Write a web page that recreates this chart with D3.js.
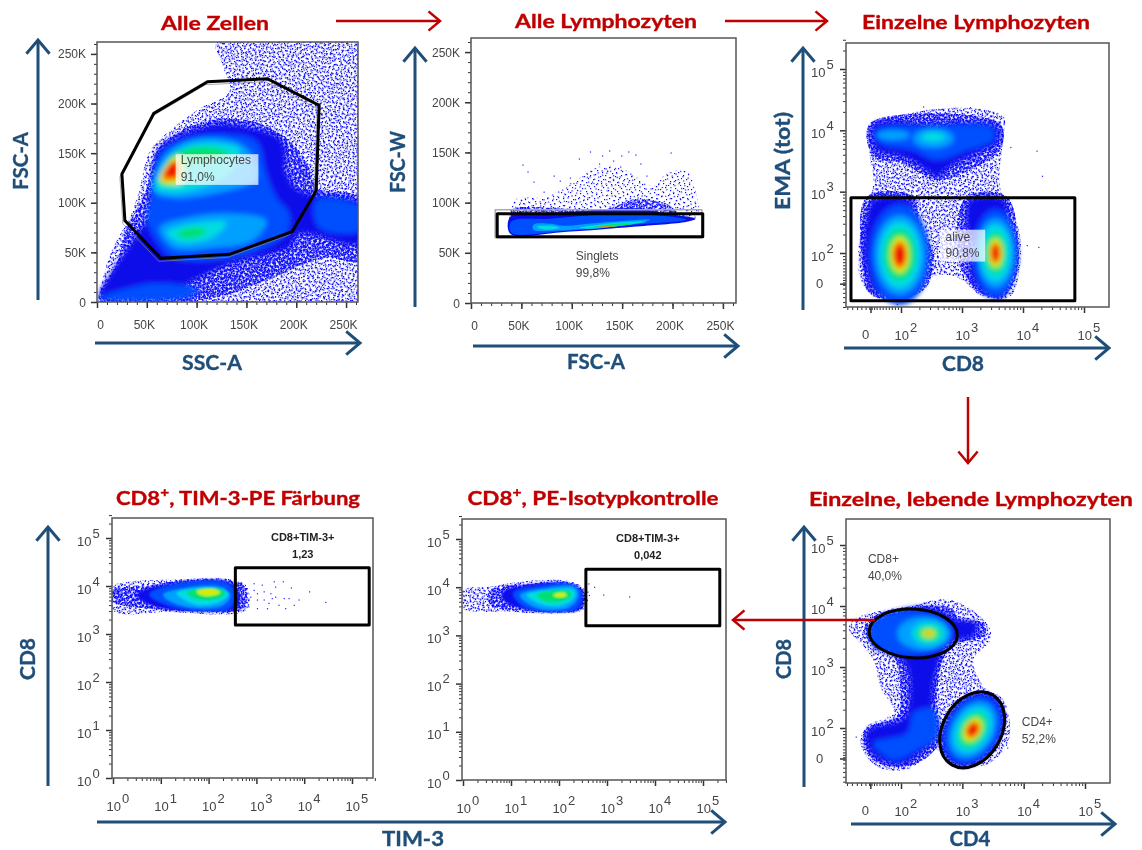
<!DOCTYPE html>
<html>
<head>
<meta charset="utf-8">
<script src="https://cdn.jsdelivr.net/npm/d3@7"></script>
<style>
  body { margin: 0; background: #fff; }
  svg { display: block; filter: blur(0.35px); }
  text { font-family: "Liberation Sans", Arial, sans-serif; }
  .head { font-family: Lato, sans-serif; font-weight: 700; stroke-width: 0.35; }
</style>
</head>
<body>
<svg width="1142" height="850"></svg>
<script>
// density regions: [level, [[x,y],...]], linear panels in K, log panels in decades
const allCellsRegions = [
  [0, [[120,261],[265,264],[265,-3],[2,-1],[3,12],[16,55],[33,85],[43,115],[53,152],[76,175],[103,195],[133,212],[126,239]]],
  [1, [[50,115],[60,152],[83,172],[120,184],[156,182],[190,165],[213,135],[220,115],[264,105],[264,42],[230,45],[186,29],[136,9],[103,2],[3,2],[20,39],[30,75],[43,99]]],
  [2, [[53,109],[63,155],[90,170],[123,179],[156,175],[186,162],[190,129],[203,112],[264,99],[264,59],[203,69],[193,55],[136,39],[103,25],[76,12],[3,4],[16,32],[36,62],[50,85]]],
  [3, [[56,109],[66,152],[93,165],[130,169],[160,162],[170,129],[180,105],[193,89],[190,69],[136,45],[76,45],[60,62],[50,85]]],
  [3, [[3,4],[36,15],[60,19],[103,12],[90,4]]],
  [3, [[220,102],[264,95],[264,72],[223,75]]],
  [4, [[56,112],[66,145],[90,162],[123,165],[150,155],[160,125],[116,109],[76,105]]],
  [4, [[63,75],[90,85],[136,89],[170,82],[156,62],[116,55],[76,55]]],
  [5, [[60,114],[70,142],[90,157],[120,160],[143,154],[133,129],[103,115],[76,110]]],
  [5, [[70,70],[96,79],[130,80],[116,65],[83,60]]],
  [6, [[63,119],[73,145],[93,155],[120,155],[133,149],[103,139],[83,132],[80,119]]],
  [6, [[80,70],[103,75],[110,70],[90,64]]],
  [7, [[63,122],[73,142],[83,147],[85,120]]],
  [8, [[65,124],[74,140],[81,143],[81,124]]],
  [9, [[68,127],[73,139],[80,140],[80,127]]]
];
const allCellsGate = [[25,129],[57,190],[111,222],[171,225],[223,198],[220,112],[196,71],[133,48],[64,44],[28,82]];

const singletRegions = [
  [0, [[40,89],[44,103],[75,106],[105,123],[128,136],[154,132],[181,116],[194,129],[214,131],[224,106],[224,86],[161,86],[95,89]]],
  [1, [[39,89],[42,94],[135,94],[161,103],[194,99],[207,89],[221,84],[161,83],[39,83]]],
  [2, [[39,86],[78,89],[128,93],[168,94],[194,89],[223,84],[214,81],[161,76],[95,71],[39,69]]],
  [3, [[40,81],[78,84],[128,88],[178,88],[214,83],[161,78],[95,72],[40,70]]],
  [4, [[62,78],[78,79],[92,77],[128,80],[178,83],[161,79],[115,74],[78,72],[62,73]]],
  [5, [[65,76],[78,77],[88,75],[75,73]]],
  [5, [[108,75],[145,80],[174,81],[148,77],[118,74]]],
  [6, [[118,75],[145,79],[161,79],[141,76]]],
  [8, [[125,76],[138,77],[148,77],[135,76]]]
];
const singletStrays = [[51,138],[56,131],[118,151],[137,152],[149,147],[156,151],[163,148],[198,150],[107,144],[130,147],[127,139],[141,142],[168,139],[62,121],[82,127],[98,125],[135,132],[148,136],[115,129],[72,111],[88,122],[120,121],[174,127],[158,129]];

const aliveRegions = [
  [0, [[1.49,4.06],[2.15,4.28],[3.13,4.36],[3.68,4.22],[3.68,3.90],[3.62,3.08],[3.79,2.76],[3.95,2.27],[3.95,1.78],[3.79,1.29],[3.35,1.29],[2.91,1.61],[2.48,1.61],[2.04,1.23],[1.55,1.29],[1.33,1.61],[1.33,2.32],[1.49,2.86],[1.55,3.19],[1.49,3.57]]],
  [1, [[1.44,2.92],[2.20,2.92],[2.31,2.43],[2.53,2.0],[2.42,1.45],[2.04,1.26],[1.49,1.34],[1.36,1.89]]],
  [1, [[3.08,2.92],[3.73,2.92],[3.92,2.21],[3.90,1.67],[3.68,1.29],[3.35,1.32],[3.02,1.67],[2.91,2.32]]],
  [1, [[1.49,4.11],[3.62,4.11],[3.65,3.73],[3.24,3.41],[2.58,3.19],[2.04,3.46],[1.55,3.57]]],
  [2, [[1.55,4.09],[2.48,4.11],[3.57,4.06],[3.57,3.79],[3.24,3.63],[2.80,3.41],[2.58,3.24],[2.42,3.35],[2.04,3.57],[1.60,3.68]]],
  [2, [[1.55,2.86],[2.15,2.86],[2.20,2.59],[2.42,2.21],[2.42,1.78],[2.20,1.45],[2.04,1.29],[1.60,1.34],[1.41,1.78],[1.41,2.32]]],
  [2, [[3.13,2.86],[3.68,2.86],[3.79,2.43],[3.92,2.0],[3.79,1.45],[3.62,1.26],[3.35,1.34],[3.13,1.67],[3.19,2.10],[3.08,2.43]]],
  [3, [[1.60,4.01],[2.48,4.06],[3.51,4.03],[3.51,3.84],[3.08,3.68],[2.58,3.52],[2.20,3.68],[1.66,3.79]]]
];
// [level, cx, cy, rx, ry, rotation]
const aliveBlobs = [
  [3,1.98,1.97,.49,.82,0],[4,1.98,1.97,.41,.65,0],[5,1.98,1.97,.33,.54,0],[6,1.98,1.97,.25,.41,0],[7,1.98,1.97,.16,.30,0],[8,1.98,1.97,.12,.23,0],[9,1.98,1.97,.09,.17,0],
  [3,3.55,2.0,.36,.71,0],[4,3.55,2.0,.30,.57,0],[5,3.55,2.0,.25,.46,0],[6,3.55,2.0,.17,.33,0],[7,3.55,2.0,.12,.24,0],[8,3.55,2.0,.09,.18,0],[9,3.55,2.0,.06,.13,0],
  [4,1.87,3.92,.27,.08,0],[4,2.53,3.87,.33,.16,0],[5,2.53,3.89,.19,.08,0]
];
const aliveStrays = [[4.22,3.67],[4.31,3.26],[4.25,2.10],[4.06,2.13],[3.79,3.73],[2.36,4.39],[2.69,4.35],[3.13,4.38],[1.93,1.17]];

const tim3Regions = [
  [0, [[0,3.99],[.42,4.10],[1.12,4.13],[2.52,4.13],[2.80,3.99],[2.80,3.51],[1.12,3.46],[0,3.49]]],
  [1, [[0,3.92],[.63,3.99],[1.33,4.10],[2.45,4.11],[2.76,3.99],[2.73,3.54],[1.82,3.47],[.98,3.51],[0,3.68]]],
  [2, [[.49,3.82],[1.26,4.06],[2.38,4.10],[2.60,3.92],[2.60,3.54],[1.82,3.47],[.98,3.54],[.63,3.68]]],
  [3, [[.77,3.82],[1.26,4.03],[2.38,4.06],[2.55,3.85],[2.45,3.54],[1.75,3.49],[1.12,3.61]]],
  [4, [[1.05,3.82],[1.54,3.96],[2.24,3.98],[2.45,3.82],[2.31,3.61],[1.75,3.54],[1.26,3.65]]],
  [5, [[1.33,3.85],[1.82,3.96],[2.31,3.92],[2.41,3.82],[2.17,3.65],[1.75,3.61]]],
  [6, [[1.54,3.87],[1.96,3.96],[2.31,3.91],[2.34,3.82],[2.10,3.72],[1.75,3.73]]],
  [7, [[1.75,3.89],[2.10,3.94],[2.24,3.87],[2.10,3.80],[1.82,3.82]]]
];
const tim3Strays = [[3.36,4.10],[3.55,4.10],[3.72,3.97],[4.10,3.89],[4.44,3.67],[3.88,3.72],[3.67,3.75],[3.78,3.61],[3.60,3.54],[3.46,3.61],[3.29,3.85],[3.32,3.75],[3.11,4.03],[2.94,4.06],[3.15,3.72],[3.01,3.85],[2.87,3.78],[2.83,3.58],[3.01,3.54],[3.22,3.54],[3.39,3.99],[3.01,3.72],[2.94,3.92],[3.15,3.89],[3.25,3.65],[3.39,3.78],[3.57,3.75]];

const isoRegions = [
  [0, [[0,3.94],[.57,4.01],[1.26,4.12],[2.23,4.12],[2.54,3.94],[2.54,3.56],[1.95,3.46],[.91,3.49],[0,3.56]]],
  [1, [[.57,3.94],[1.26,4.05],[2.26,4.08],[2.52,3.91],[2.49,3.56],[1.95,3.47],[1.26,3.52],[.57,3.63]]],
  [2, [[.84,3.91],[1.26,4.03],[2.26,4.07],[2.49,3.88],[2.45,3.56],[1.95,3.48],[1.26,3.54],[.84,3.74]]],
  [3, [[1.05,3.88],[1.61,4.03],[2.23,4.07],[2.47,3.88],[2.37,3.56],[1.81,3.49],[1.26,3.60]]],
  [4, [[1.19,3.84],[1.75,3.98],[2.33,4.0],[2.40,3.84],[2.23,3.60],[1.75,3.53],[1.40,3.63]]],
  [5, [[1.33,3.84],[1.81,3.94],[2.30,3.94],[2.33,3.81],[2.09,3.63],[1.68,3.63]]],
  [6, [[1.54,3.84],[1.88,3.93],[2.23,3.91],[2.26,3.81],[2.02,3.70],[1.68,3.72]]],
  [7, [[1.88,3.84],[2.09,3.89],[2.16,3.83],[1.99,3.79]]]
];
const isoStrays = [[2.61,4.08],[2.73,4.01],[2.92,3.85],[3.46,3.81],[2.62,3.84],[2.59,3.91],[2.58,3.74]];

const cd4cd8Regions = [
  [0, [[1.15,3.61],[1.23,3.78],[1.61,3.91],[2.10,3.99],[2.80,4.10],[3.40,3.72],[3.46,3.45],[3.18,3.12],[3.35,2.68],[3.67,2.46],[3.76,1.81],[3.46,1.43],[2.91,1.37],[2.59,1.64],[2.10,1.32],[1.61,1.37],[1.34,1.75],[1.45,2.03],[1.88,2.25],[1.66,2.68],[1.55,3.12],[1.34,3.39]]],
  [1, [[1.40,3.61],[1.55,3.83],[2.10,3.97],[2.80,3.97],[2.97,3.78],[3.35,3.72],[3.35,3.50],[2.91,3.39],[2.70,3.17],[2.59,2.57],[2.59,1.70],[2.10,1.37],[1.55,1.48],[1.39,1.81],[1.45,2.0],[1.93,2.19],[1.99,2.68],[1.88,3.17],[1.55,3.34]]],
  [2, [[1.50,3.67],[1.88,3.91],[2.53,3.97],[2.91,3.78],[3.24,3.72],[3.18,3.50],[2.91,3.45],[2.67,3.20],[2.51,2.52],[2.56,1.81],[2.32,1.59],[1.99,1.40],[1.55,1.54],[1.42,1.81],[1.47,1.97],[2.04,2.16],[2.13,2.36],[2.10,3.01],[1.93,3.17],[1.55,3.34]]],
  [3, [[1.55,1.75],[2.10,1.92],[2.21,2.25],[2.53,2.30],[2.59,1.86],[2.26,1.64],[1.88,1.48]]]
];
const cd4cd8Blobs = [
  [3,2.15,3.56,.68,.36,0],[4,2.37,3.55,.43,.27,0],[5,2.45,3.55,.27,.19,0],[6,2.45,3.55,.19,.12,0],[7,2.45,3.55,.11,.07,0],[8,2.45,3.55,.05,.03,0],
  [1,3.17,1.97,.68,.49,-60],[2,3.17,1.97,.63,.45,-60],[3,3.17,1.97,.57,.41,-60],[4,3.17,1.97,.49,.34,-60],[5,3.17,1.97,.39,.27,-60],[6,3.17,1.97,.30,.20,-60],[7,3.17,1.97,.21,.14,-60],[8,3.17,1.97,.15,.11,-60],[9,3.17,1.97,.11,.08,-60]
];
const cd4cd8Strays = [[2.82,4.09],[4.43,2.31],[3.73,1.68],[1.26,1.86]];
const cd4cd8Gates = [[2.20,3.55,.72,.40,3],[3.16,1.97,.66,.48,-60]];

const kTicks = [0, 50, 100, 150, 200, 250];
const biexTicks = [1.5, 2, 3, 4, 5];
const logTicks = [0, 1, 2, 3, 4, 5];

const levelColor = ["none", "none", "#0810ea", "#0050ff", "#00a0ff", "#00dce0", "#00e070", "#d2f000", "#ff8a00", "#f01000"];
// irregular tile for the speckled low density parts, laid over itself at several angles
const speckle = [[1,2],[5,0],[9,3],[14,1],[19,4],[24,2],[28,5],[3,6],[7,8],[12,6],[17,9],[22,7],[26,10],[0,11],[5,12],[10,10],[15,13],[20,12],[25,14],[29,13],[2,16],[8,15],[13,17],[18,16],[23,18],[27,17],[1,20],[6,19],[11,21],[16,20],[21,22],[26,21],[30,23],[4,24],[9,25],[14,24],[19,26],[24,25],[28,27],[2,28],[7,29],[12,28],[17,30],[22,29],[29,30]];
const speckleLayers = 16;

const svg = d3.select("svg");
const defs = svg.append("defs");
const blue = "#1f4e79", red = "#c00000", ink = "#454545";

d3.range(speckleLayers).forEach(i => {
  defs.append("pattern").attr("id", "speckle" + i).attr("patternUnits", "userSpaceOnUse")
    .attr("width", 31).attr("height", 31)
    .attr("patternTransform", `translate(${i * 7},${i * 11}) rotate(${i * 37})`)
    .selectAll("rect").data(speckle).join("rect")
    .attr("x", d => d[0]).attr("y", d => d[1]).attr("width", 1.2).attr("height", 1.2).attr("fill", "#0808ff");
});

const outline = d3.line().curve(d3.curveCatmullRomClosed.alpha(0.5));
const straight = d3.line().curve(d3.curveLinearClosed);

function logMinor(from, to) {
  let out = [];
  for (let k = from; k < to; k++) for (let m = 2; m < 10; m++) out.push(k + Math.log10(m));
  return out;
}

function panel(p) {
  const x = d3.scaleLinear().domain(p.xd).range(p.xr);
  const y = d3.scaleLinear().domain(p.yd).range(p.yr);
  const left = p.frame[0], top = p.frame[1], right = p.frame[2], bottom = p.frame[3];
  const g = svg.append("g");

  defs.append("clipPath").attr("id", "clip" + p.id).append("rect")
    .attr("x", left).attr("y", top).attr("width", right - left).attr("height", bottom - top);
  defs.append("filter").attr("id", "soft" + p.id)
    .attr("x", "-10%").attr("y", "-10%").attr("width", "120%").attr("height", "120%")
    .append("feGaussianBlur").attr("stdDeviation", p.soft);

  g.append("rect").attr("x", left).attr("y", top).attr("width", right - left).attr("height", bottom - top).attr("fill", "#fff");

  const plot = g.append("g").attr("clip-path", `url(#clip${p.id})`);
  const path = r => outline(r.map(d => [x(d[0]), y(d[1])]));

  // speckled parts
  const low = plot.append("g");
  (p.regions || []).filter(r => r[0] < 2).forEach(r => {
    d3.range(r[0] == 0 ? p.sparse : p.dense).forEach(i => {
      low.append("path").attr("d", path(r[1])).attr("fill", `url(#speckle${i})`);
    });
  });
  (p.blobs || []).filter(b => b[0] < 2).forEach(b => {
    d3.range(p.dense).forEach(i => blob(low, b, `url(#speckle${i})`));
  });

  // solid density levels, softened together
  const high = plot.append("g").attr("filter", `url(#soft${p.id})`);
  d3.range(2, 10).forEach(level => {
    (p.regions || []).filter(r => r[0] == level).forEach(r => {
      high.append("path").attr("d", path(r[1])).attr("fill", levelColor[level]);
    });
    (p.blobs || []).filter(b => b[0] == level).forEach(b => blob(high, b, levelColor[level]));
  });

  plot.append("g").selectAll("rect").data(p.strays || []).join("rect")
    .attr("x", d => x(d[0])).attr("y", d => y(d[1])).attr("width", 1.2).attr("height", 1.2).attr("fill", "#2222ff");

  function blob(parent, b, fill) {
    const cx = x(b[1]), cy = y(b[2]);
    parent.append("ellipse").attr("cx", cx).attr("cy", cy)
      .attr("rx", Math.abs(x(b[1] + b[3]) - cx)).attr("ry", Math.abs(y(b[2] + b[4]) - cy))
      .attr("transform", `rotate(${b[5]},${cx},${cy})`)
      .attr("fill", fill);
  }

  // axes
  const xMinor = d3.axisBottom(x).tickValues(p.xMinor).tickSize(3).tickFormat("");
  const yMinor = d3.axisLeft(y).tickValues(p.yMinor).tickSize(3).tickFormat("");
  const xMajor = d3.axisBottom(x).tickValues(p.xTicks).tickSize(6);
  const yMajor = d3.axisLeft(y).tickValues(p.yTicks).tickSize(6);
  const axes = [
    g.append("g").attr("transform", `translate(0,${bottom})`).call(xMinor),
    g.append("g").attr("transform", `translate(${left},0)`).call(yMinor),
  ];
  const xa = g.append("g").attr("transform", `translate(0,${bottom})`).call(xMajor);
  const ya = g.append("g").attr("transform", `translate(${left},0)`).call(yMajor);
  axes.concat([xa, ya]).forEach(a => {
    a.select(".domain").remove();
    a.selectAll("line").attr("stroke", "#333");
  });
  xa.selectAll("line").attr("stroke-width", 1.5);
  ya.selectAll("line").attr("stroke-width", 1.5);

  xa.selectAll("text").each(function(d) { tickText(d3.select(this), d, p, true); });
  ya.selectAll("text").each(function(d) { tickText(d3.select(this), d, p, false); });

  g.append("rect").attr("x", left).attr("y", top).attr("width", right - left).attr("height", bottom - top)
    .attr("fill", "none").attr("stroke", "#555").attr("stroke-width", 1.5);

  // gates
  if (p.shadowRect) gateRect(p.shadowRect, "#aaa", 1.5);
  if (p.gatePoly) {
    g.append("path").attr("d", straight(p.gatePoly.map(d => [x(d[0]) - 2, y(d[1]) + 3])))
      .attr("fill", "none").attr("stroke", "#888").attr("stroke-width", 1).attr("opacity", 0.7);
    g.append("path").attr("d", straight(p.gatePoly.map(d => [x(d[0]), y(d[1])])))
      .attr("fill", "none").attr("stroke", "#000").attr("stroke-width", 3);
  }
  if (p.gateRect) gateRect(p.gateRect, "#000", 3);
  (p.gateEllipses || []).forEach(b => {
    const cx = x(b[0]), cy = y(b[1]);
    g.append("ellipse").attr("cx", cx).attr("cy", cy)
      .attr("rx", Math.abs(x(b[0] + b[2]) - cx)).attr("ry", Math.abs(y(b[1] + b[3]) - cy))
      .attr("transform", `rotate(${b[4]},${cx},${cy})`)
      .attr("fill", "none").attr("stroke", "#000").attr("stroke-width", 3);
  });

  function gateRect(r, color, w) {
    g.append("rect").attr("x", x(r[0])).attr("y", y(r[3])).attr("width", x(r[1]) - x(r[0])).attr("height", y(r[2]) - y(r[3]))
      .attr("fill", "none").attr("stroke", color).attr("stroke-width", w).attr("stroke-linejoin", "round");
  }

  // label box and gate text
  if (p.box) {
    g.append("rect").attr("x", x(p.box[0])).attr("y", y(p.box[3])).attr("width", x(p.box[1]) - x(p.box[0])).attr("height", y(p.box[2]) - y(p.box[3]))
      .attr("fill", "#fff").attr("opacity", 0.72);
  }
  (p.notes || []).forEach(n => {
    g.append("text").attr("x", x(n[0])).attr("y", y(n[1])).text(n[2])
      .attr("font-size", n[3] ? 11 : 12).attr("font-weight", n[3] ? "bold" : null)
      .attr("text-anchor", n[3] ? "middle" : "start").attr("fill", n[3] ? "#222" : ink)
      .style("font-family", "'Liberation Sans', Arial, sans-serif");
  });
}

function tickText(t, d, p, isX) {
  t.attr("fill", ink).attr("font-size", p.kind == "k" ? 12 : 13).attr("dy", null)
    .style("font-family", "'Liberation Sans', Arial, sans-serif");
  if (p.kind == "k") {
    t.text(d ? d + "K" : "0");
    if (isX) t.attr("y", 26.5).attr("x", d ? -3 : 3).attr("text-anchor", "middle");
    else t.attr("x", -11).attr("y", 4).attr("text-anchor", "end");
    return;
  }
  if (d == 1.5) {
    t.text("0");
    if (isX) t.attr("y", 32).attr("x", -9).attr("text-anchor", "start");
    else t.attr("x", -30).attr("y", 4).attr("text-anchor", "start");
    return;
  }
  t.text(null).attr("text-anchor", "start");
  if (isX) t.attr("x", -7).attr("y", 32.5);
  else t.attr("x", -35).attr("y", 7);
  t.append("tspan").text("10");
  t.append("tspan").attr("dx", 1).attr("dy", -8).text(Math.round(d));
}

function arrow(x1, y1, x2, y2, color, w, head) {
  const a = Math.atan2(y2 - y1, x2 - x1), s = Math.PI / 4.5;
  const g = svg.append("g").attr("fill", "none").attr("stroke", color).attr("stroke-width", w);
  g.append("path").attr("d", d3.line()([[x1, y1], [x2, y2]]));
  g.append("path").attr("d", d3.line()([
    [x2 - head * Math.cos(a - s), y2 - head * Math.sin(a - s)],
    [x2, y2],
    [x2 - head * Math.cos(a + s), y2 - head * Math.sin(a + s)]
  ]));
}

function heading(txt, cx, cy, width, size, color, rotate, sup) {
  const t = svg.append("text").attr("class", "head")
    .attr("text-anchor", "middle").attr("dominant-baseline", "central")
    .attr("font-size", size).attr("fill", color).attr("stroke", color)
    .attr("transform", `translate(${cx},${cy}) rotate(${rotate || 0})`);
  if (sup) {
    t.append("tspan").text(sup[0]);
    t.append("tspan").attr("dy", -5).attr("font-size", size * 0.7).text("+");
    t.append("tspan").attr("dy", 5).text(sup[1]);
  } else t.text(txt);
  t.attr("textLength", width).attr("lengthAdjust", "spacingAndGlyphs");
}

const kMinor = d3.range(0, 270, 10);
const biexMinor = [1.12, 1.2, 1.28, 1.35, 1.42, 1.48, 1.52, 1.56, 1.6, 1.65, 1.7, 1.75, 1.8, 1.85, 1.9, 1.95].concat(logMinor(2, 5));

panel({
  id: 1, kind: "k", soft: 2.5, sparse: 5, dense: 14, frame: [97, 42, 358, 302],
  xd: [0, 262], xr: [97, 358], yd: [0, 262], yr: [302, 42],
  xTicks: kTicks, yTicks: kTicks, xMinor: kMinor, yMinor: kMinor,
  regions: allCellsRegions, gatePoly: allCellsGate,
  box: [79, 162, 118, 149],
  notes: [[84, 139, "Lymphocytes"], [84, 122, "91,0%"]]
});
panel({
  id: 2, kind: "k", soft: 0.7, sparse: 2, dense: 12, frame: [471, 38, 736, 303],
  xd: [0, 262], xr: [471, 735], yd: [0, 264], yr: [303, 38],
  xTicks: kTicks, yTicks: kTicks, xMinor: kMinor, yMinor: kMinor,
  regions: singletRegions, strays: singletStrays,
  shadowRect: [24, 229, 65, 93], gateRect: [26, 230, 66, 89],
  notes: [[104, 43, "Singlets"], [104, 26, "99,8%"]]
});
panel({
  id: 3, kind: "biex", soft: 2.5, sparse: 5, dense: 14, frame: [846, 43, 1109, 307],
  xd: [2, 5], xr: [901, 1084], yd: [2, 5], yr: [253, 69],
  xTicks: biexTicks, yTicks: biexTicks, xMinor: biexMinor, yMinor: biexMinor.concat(logMinor(5, 6).slice(0, 2)),
  regions: aliveRegions, blobs: aliveBlobs, strays: aliveStrays,
  gateRect: [1.18, 4.85, 1.22, 2.90],
  box: [2.64, 3.38, 1.86, 2.38],
  notes: [[2.73, 2.20, "alive"], [2.73, 1.93, "90,8%"]]
});
panel({
  id: 4, kind: "log", soft: 1.2, sparse: 5, dense: 14, frame: [112, 518, 373, 778],
  xd: [0, 5], xr: [113, 352], yd: [0, 5], yr: [778, 538],
  xTicks: logTicks, yTicks: logTicks, xMinor: logMinor(0, 6).slice(0, 42), yMinor: logMinor(0, 6).slice(0, 42),
  regions: tim3Regions, strays: tim3Strays,
  gateRect: [2.56, 5.36, 3.19, 4.38],
  notes: [[3.97, 4.93, "CD8+TIM-3+", true], [3.97, 4.58, "1,23", true]]
});
panel({
  id: 5, kind: "log", soft: 1.2, sparse: 5, dense: 14, frame: [462, 519, 726, 780],
  xd: [0, 5], xr: [463, 703], yd: [0, 5], yr: [780, 539],
  xTicks: logTicks, yTicks: logTicks, xMinor: logMinor(0, 6).slice(0, 42), yMinor: logMinor(0, 6).slice(0, 42),
  regions: isoRegions, strays: isoStrays,
  gateRect: [2.56, 5.35, 3.20, 4.37],
  notes: [[3.85, 4.93, "CD8+TIM-3+", true], [3.85, 4.58, "0,042", true]]
});
panel({
  id: 6, kind: "biex", soft: 2.5, sparse: 5, dense: 14, frame: [846, 519, 1110, 783],
  xd: [2, 5], xr: [901, 1085], yd: [2, 5], yr: [728, 545],
  xTicks: biexTicks, yTicks: biexTicks, xMinor: biexMinor, yMinor: biexMinor,
  regions: cd4cd8Regions, blobs: cd4cd8Blobs, strays: cd4cd8Strays,
  gateEllipses: cd4cd8Gates,
  notes: [[1.46, 4.70, "CD8+"], [1.46, 4.42, "40,0%"], [3.97, 2.03, "CD4+"], [3.97, 1.75, "52,2%"]]
});

// navy axis arrows
[[38,300,38,40],[95,343,360,343],[415,307,415,48],[473,346,738,346],[803,310,803,48],[844,348,1109,348],
 [48,786,48,527],[97,822,725,822],[804,787,804,527],[851,824,1115,824]]
  .forEach(a => arrow(a[0], a[1], a[2], a[3], blue, 3, 18));

// red flow arrows
[[336,21,440,21],[725,21,827,21],[968,397,968,463],[875,620,733,620]]
  .forEach(a => arrow(a[0], a[1], a[2], a[3], red, 2.5, 15));

heading("FSC-A", 20, 161, 58, 20, blue, -90);
heading("SSC-A", 212, 362, 60, 20, blue);
heading("FSC-W", 397, 162, 62, 20, blue, -90);
heading("FSC-A", 596, 361, 58, 20, blue);
heading("EMA (tot)", 782, 161, 98, 20, blue, -90);
heading("CD8", 963, 363, 42, 20, blue);
heading("CD8", 27, 659, 42, 20, blue, -90);
heading("TIM-3", 413, 838, 62, 20, blue);
heading("CD8", 783, 659, 40, 20, blue, -90);
heading("CD4", 970, 838, 41, 20, blue);

heading("Alle Zellen", 215, 22, 108, 19, red);
heading("Alle Lymphozyten", 606, 20, 182, 19, red);
heading("Einzelne Lymphozyten", 976, 21, 228, 19, red);
heading("", 238, 497, 244, 19, red, 0, ["CD8", ", TIM-3-PE Färbung"]);
heading("", 593, 497, 251, 19, red, 0, ["CD8", ", PE-Isotypkontrolle"]);
heading("Einzelne, lebende Lymphozyten", 971, 498, 324, 19, red);
</script>
</body>
</html>
